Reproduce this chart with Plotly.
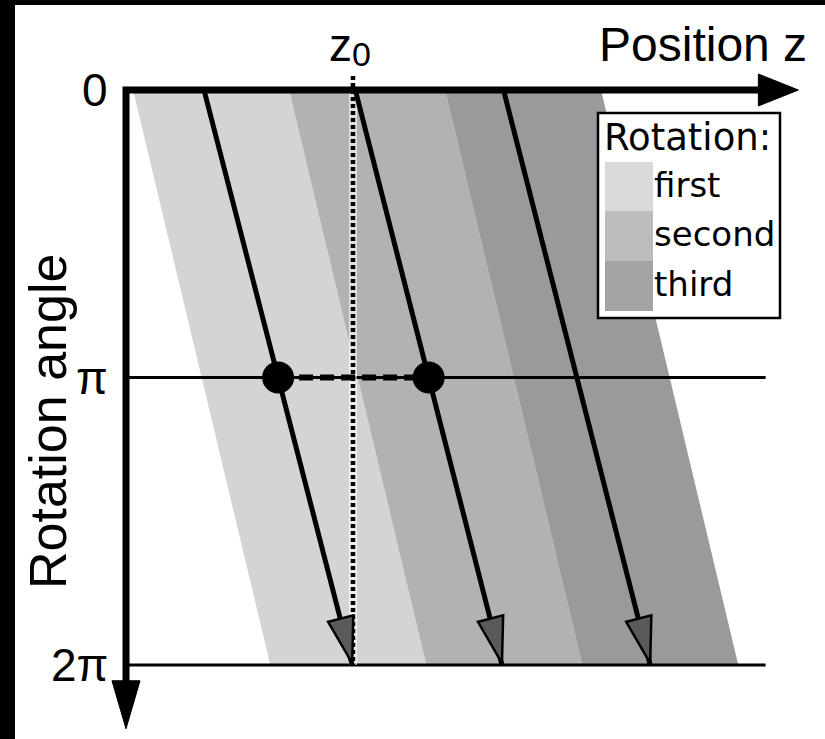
import numpy as np
import plotly.graph_objects as go

# ---------------- data ----------------
band_names = ["first", "second", "third"]
band_colors = ["#d4d4d4", "#b2b2b2", "#9a9a9a"]
legend_colors = ["#d9d9d9", "#bcbcbc", "#a3a3a3"]
band_start_top = [0.045, 1.045, 2.045]   # z of band left edge at angle 0
band_width = 1.0
band_shift = 0.88                         # z advance over one rotation (0 -> 2π)
arrow_z_top = [0.50, 1.47, 2.42]
arrow_z_bottom = [1.45, 2.41, 3.36]
z0 = 1.455
angle_ticks = [0.0, np.pi, 2 * np.pi]
angle_labels = ["0", "π", "2π"]
grid_z_end = 4.1
axis_z_max = 4.31
axis_theta_max = 6.98

# ---------------- layout mapping ----------------
W, H = 825, 739
X0_PX, ZPX = 126, 156
Y0_PX, Y2PI_PX = 90, 665
TH_PX = (Y2PI_PX - Y0_PX) / (2 * np.pi)


def to_px(z, th):
    return X0_PX + z * ZPX, Y0_PX + th * TH_PX


def to_data(x, y):
    return (x - X0_PX) / ZPX, (y - Y0_PX) / TH_PX


xr = [to_data(0, 0)[0], to_data(W, 0)[0]]
yr = [to_data(0, H)[1], to_data(0, 0)[1]]

fig = go.Figure()


def add_poly(zs, ths, fill, line_color=None, line_width=0):
    fig.add_trace(go.Scatter(
        x=list(zs) + [zs[0]], y=list(ths) + [ths[0]], mode="lines",
        fill="toself", fillcolor=fill,
        line=dict(color=line_color or fill, width=line_width),
        hoverinfo="skip", showlegend=False))


def triangle(tip, start, length, half_w):
    tx, ty = to_px(*tip)
    sx, sy = to_px(*start)
    d = np.array([tx - sx, ty - sy], float)
    d /= np.linalg.norm(d)
    n = np.array([-d[1], d[0]])
    b = np.array([tx, ty]) - length * d
    pts = [(tx, ty), tuple(b + half_w * n), tuple(b - half_w * n)]
    zs, ths = zip(*[to_data(*p) for p in pts])
    return zs, ths


# bands
for s, c in zip(band_start_top, band_colors):
    add_poly([s, s + band_width, s + band_width + band_shift, s + band_shift],
             [0, 0, 2 * np.pi, 2 * np.pi], c)

# horizontal reference lines at π and 2π
for th in angle_ticks[1:]:
    fig.add_trace(go.Scatter(x=[0, grid_z_end], y=[th, th], mode="lines",
                             line=dict(color="black", width=3),
                             hoverinfo="skip", showlegend=False))

# z0 dotted line
th_top = to_data(0, 76)[1]
fig.add_trace(go.Scatter(x=[z0, z0], y=[th_top, 2 * np.pi], mode="lines",
                         line=dict(color="rgba(255,255,255,0.6)", width=8),
                         hoverinfo="skip", showlegend=False))
fig.add_trace(go.Scatter(x=[z0, z0], y=[th_top, 2 * np.pi], mode="lines",
                         line=dict(color="black", width=4.5, dash="4px,3px"),
                         hoverinfo="skip", showlegend=False))

# arrows
for zt, zb in zip(arrow_z_top, arrow_z_bottom):
    fig.add_trace(go.Scatter(x=[zt, zb], y=[0, 2 * np.pi], mode="lines",
                             line=dict(color="black", width=5),
                             hoverinfo="skip", showlegend=False))
    tz, tth = triangle((zb, 2 * np.pi - 0.02), (zt, 0), 46, 13)
    add_poly(tz, tth, "#5a5a5a", "black", 2.5)

# dots at π and dashed link
dot_z = [np.interp(np.pi, [0, 2 * np.pi], [zt, zb])
         for zt, zb in zip(arrow_z_top[:2], arrow_z_bottom[:2])]
fig.add_trace(go.Scatter(x=dot_z, y=[np.pi, np.pi], mode="lines",
                         line=dict(color="black", width=6, dash="14px,7px"),
                         hoverinfo="skip", showlegend=False))
fig.add_trace(go.Scatter(x=dot_z, y=[np.pi, np.pi], mode="markers",
                         marker=dict(color="black", size=32),
                         hoverinfo="skip", showlegend=False))

# axes with arrowheads
ax_len = 40
hx_end = to_data(to_px(axis_z_max, 0)[0] - ax_len + 2, 0)[0]
vy_end = to_data(0, to_px(0, axis_theta_max)[1] - ax_len + 2)[1]
fig.add_trace(go.Scatter(x=[hx_end, 0, 0], y=[0, 0, vy_end], mode="lines",
                         line=dict(color="black", width=7),
                         hoverinfo="skip", showlegend=False))
tz, tth = triangle((axis_z_max, 0), (0, 0), ax_len, 16)
add_poly(tz, tth, "black", "black", 1)
tz, tth = triangle((0, axis_theta_max), (0, 0), ax_len + 8, 14)
add_poly(tz, tth, "black", "black", 1)

annotations = []
FAM = "Liberation Sans, Arial"
lab_font = dict(family=FAM, size=46, color="black")
for th, lab in zip(angle_ticks, angle_labels):
    annotations.append(dict(x=to_data(110, 0)[0], y=th, xref="x", yref="y",
                            text=lab, showarrow=False, xanchor="right",
                            yanchor="middle", font=lab_font))
# z0 label: "z" with a lowered "0"
annotations.append(dict(x=to_data(354, 0)[0], y=to_data(0, 45)[1], xref="x",
                        yref="y", text="z", showarrow=False, xanchor="right",
                        yanchor="middle", font=dict(family=FAM, size=46,
                                                    color="black")))
annotations.append(dict(x=to_data(350, 0)[0], y=to_data(0, 54)[1], xref="x",
                        yref="y", text="0", showarrow=False, xanchor="left",
                        yanchor="middle", font=dict(family=FAM, size=34,
                                                    color="black")))
annotations.append(dict(x=to_data(703, 0)[0], y=to_data(0, 44)[1], xref="x",
                        yref="y", text="Position z", showarrow=False,
                        xanchor="center", yanchor="middle",
                        font=dict(family=FAM, size=48, color="black")))
annotations.append(dict(x=to_data(48, 0)[0], y=to_data(0, 422)[1], xref="x",
                        yref="y", text="Rotation angle", showarrow=False,
                        textangle=-90, xanchor="center", yanchor="middle",
                        font=dict(family=FAM, size=52, color="black")))


# legend (drawn manually in pixel-based paper coords)
def pxp(x, y):
    return x / W, 1 - y / H


shapes = []
lx0, ly0 = pxp(598, 113)
lx1, ly1 = pxp(780, 318)
shapes.append(dict(type="rect", xref="paper", yref="paper", x0=lx0, y0=ly1,
                   x1=lx1, y1=ly0, fillcolor="white",
                   line=dict(color="black", width=2.5)))
sw_top = [162, 211, 261]
sw_h = 50
leg_font = dict(family="DejaVu Sans", size=34, color="black")
for i, (name, col) in enumerate(zip(band_names, legend_colors)):
    a = pxp(605, sw_top[i])
    b = pxp(653, sw_top[i] + sw_h)
    shapes.append(dict(type="rect", xref="paper", yref="paper", x0=a[0],
                       y0=b[1], x1=b[0], y1=a[1], fillcolor=col,
                       line=dict(width=0)))
    annotations.append(dict(x=pxp(652, 0)[0],
                            y=pxp(0, sw_top[i] + sw_h / 2 - 2)[1],
                            xref="paper", yref="paper", text=name,
                            showarrow=False, xanchor="left", yanchor="middle",
                            font=leg_font))
annotations.append(dict(x=pxp(602, 0)[0], y=pxp(0, 137)[1], xref="paper",
                        yref="paper", text="Rotation:", showarrow=False,
                        xanchor="left", yanchor="middle",
                        font=dict(family="DejaVu Sans", size=37,
                                  color="black")))

# black frame on left and top edges
shapes.append(dict(type="rect", xref="paper", yref="paper", x0=0, x1=15 / W,
                   y0=0, y1=1, fillcolor="black", line=dict(width=0)))
shapes.append(dict(type="rect", xref="paper", yref="paper", x0=0, x1=1,
                   y0=1 - 5 / H, y1=1, fillcolor="black", line=dict(width=0)))

fig.update_layout(
    width=W, height=H, margin=dict(l=0, r=0, t=0, b=0),
    paper_bgcolor="white", plot_bgcolor="white",
    xaxis=dict(range=xr, visible=False, fixedrange=True),
    yaxis=dict(range=yr, visible=False, fixedrange=True),
    showlegend=False, annotations=annotations, shapes=shapes,
)
fig.write_html("out.html")
